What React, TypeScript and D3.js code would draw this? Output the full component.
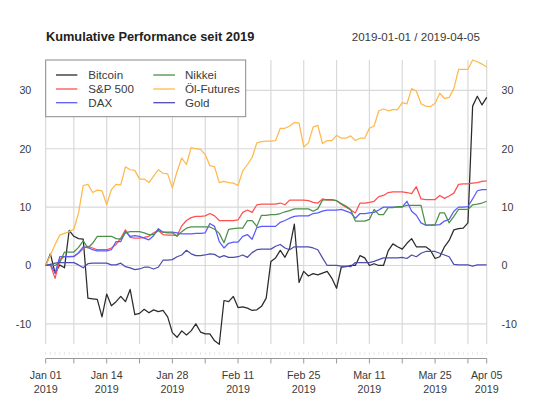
import React from 'react';
import * as d3 from 'd3';

const title = 'Kumulative Performance seit 2019';
const rangeLabel = '2019-01-01 / 2019-04-05';
const startDate = '2019-01-01';
const endDate = '2019-04-05';

const seriesNames = ['Bitcoin', 'S&P 500', 'DAX', 'Nikkei', 'Öl-Futures', 'Gold'];
const seriesColors = ['#2b2b2b', '#ff5050', '#5a5aff', '#4b904b', '#ffb84d', '#4d4daf'];

const bitcoin = [
  0, 2.0, -1.3, 0.1, -0.4, 6.0, 5.0, 4.6, 4.5, -5.6,
  -5.7, -5.8, -8.8, -4.9, -6.9, -6.2, -5.3, -6.2, -4.1, -8.4,
  -8.2, -7.5, -8.1, -7.6, -7.9, -7.7, -8.8, -11.5, -12.3, -11.2,
  -11.9, -11.2, -10.0, -11.4, -11.7, -11.7, -12.9, -13.5, -6.0, -6.2,
  -5.3, -7.2, -7.1, -7.3, -7.7, -7.6, -7.0, -5.6, 0.7, 1.3,
  2.6, 1.4, 3.0, 7.1, -2.9, -1.0, -1.8, -1.4, -1.6, -1.3,
  -1.0, -2.2, -3.9, -0.3, -0.2, 0.0, 0.0, 1.7, 1.3, 0.0,
  0.3, 0.0, 0.0, 2.5, 3.7, 3.2, 2.8, 3.8, 4.6, 3.2,
  3.2, 3.2, 2.6, 1.2, 1.5, 3.2, 4.3, 6.1, 6.3, 6.4,
  7.3, 27.3, 29.0, 27.5, 28.8,
];

const sp500 = [
  0, 0.1, -2.2, 1.0, 1.5, 1.5, 1.6, 2.1, 2.9, 3.3,
  3.0, 2.7, 2.7, 2.7, 3.0, 3.6, 4.7, 6.1, 4.8, 4.7,
  4.7, 4.8, 5.0, 5.6, 6.0, 5.3, 5.2, 5.2, 5.1, 6.8,
  7.7, 8.2, 8.4, 8.4, 8.5, 8.9, 8.5, 7.7, 7.7, 7.7,
  7.7, 7.8, 9.1, 9.5, 9.1, 10.4, 10.5, 10.5, 10.5, 10.5,
  10.7, 10.4, 11.2, 11.2, 11.2, 11.2, 11.1, 10.8, 10.7, 11.4,
  11.2, 11.2, 11.1, 10.5, 10.0, 9.5, 9.0, 10.7, 10.7, 10.8,
  11.0, 11.8, 12.0, 12.5, 12.6, 12.6, 12.6, 12.5, 12.3, 13.5,
  11.4, 11.3, 11.3, 11.3, 12.0, 11.5, 11.9, 12.4, 13.9, 14.0,
  14.0, 14.1, 14.2, 14.4, 14.5,
];

const dax = [
  0, 0.2, -1.3, 1.5, 1.5, 1.5, 1.5, 2.2, 3.2, 3.1,
  2.7, 2.5, 2.5, 2.5, 2.7, 4.1, 4.1, 5.8, 5.0, 5.1,
  5.0, 4.7, 4.4, 5.1, 6.3, 5.7, 5.7, 5.7, 5.6, 5.4,
  5.4, 5.4, 5.5, 5.5, 5.6, 7.2, 6.7, 4.1, 3.0, 3.8,
  4.0, 4.0, 5.0, 5.3, 4.5, 6.5, 6.7, 6.7, 6.7, 6.7,
  7.4, 7.7, 8.1, 8.4, 8.5, 8.5, 8.5, 8.9, 9.0, 9.3,
  9.5, 9.5, 9.5, 9.6, 9.3, 9.0, 8.1, 8.9, 8.9, 9.0,
  9.1, 9.5, 10.0, 10.0, 10.0, 10.0, 10.0, 11.0, 9.3, 8.6,
  7.3, 6.9, 6.9, 6.9, 7.0, 7.6, 7.9, 9.3, 10.0, 10.0,
  10.1, 11.4, 12.8, 13.0, 13.0,
];

const nikkei = [
  0, 0, 0, 0.5, 2.3, 2.3, 2.3, 3.1, 4.2, 3.0,
  3.8, 5.0, 5.0, 5.0, 5.0, 4.6, 4.5, 5.6, 5.8, 5.8,
  5.8, 5.6, 5.3, 5.3, 6.0, 5.7, 5.6, 5.6, 5.0, 5.8,
  6.4, 6.6, 6.6, 6.6, 6.6, 6.6, 6.2, 5.5, 3.9, 6.2,
  6.3, 6.4, 6.4, 7.7, 7.7, 6.7, 8.6, 8.6, 8.7, 8.7,
  8.9, 9.2, 9.4, 9.7, 9.7, 9.7, 9.7, 9.3, 9.7, 11.2,
  11.3, 11.3, 11.1, 10.6, 10.2, 9.6, 7.6, 7.6, 7.6, 7.9,
  9.6, 8.7, 8.7, 9.9, 9.9, 10.1, 10.1, 10.3, 10.3, 10.3,
  10.3, 6.9, 6.9, 7.0, 9.0, 9.0, 7.3, 8.4, 9.6, 9.6,
  9.6, 10.4, 10.5, 10.7, 11.0,
];

const oil = [
  0, 1.8, 3.6, 5.2, 5.5, 5.8, 6.2, 9.0, 13.7, 13.9,
  12.5, 12.9, 12.8, 10.4, 13.0, 13.9, 13.8, 16.9, 16.4, 16.3,
  14.8, 14.8, 14.2, 15.3, 16.4, 15.8, 15.7, 13.3, 16.1, 18.4,
  17.3, 20.2, 20.0, 19.9, 19.0, 17.1, 16.9, 14.2, 14.4, 14.2,
  14.1, 13.7, 16.2, 17.3, 18.5, 21.0, 21.2, 21.3, 21.3, 21.4,
  23.5, 23.5, 23.9, 24.5, 24.4, 20.3, 21.0, 23.7, 24.0, 20.9,
  21.4, 21.4, 22.3, 21.8, 21.8, 22.2, 21.4, 21.8, 21.8, 23.5,
  23.9, 26.5, 26.8, 26.5, 26.7, 26.7, 27.9, 27.7, 30.3, 29.9,
  27.7, 27.3, 27.2, 27.8, 29.5, 28.6, 28.8, 30.3, 33.6, 33.6,
  33.6, 35.2, 34.9, 34.5, 34.0,
];

const gold = [
  0, 0.2, 0.4, 0.5, 0.5, 0.5, 0.5, 0.1, -0.4, 0.3,
  0.4, 0.4, 0.4, 0.4, 0.1, 0.1, 0.4, -0.2, -0.4, -0.7,
  -0.6, -0.3, -0.3, -0.6, -0.3, 0.9, 0.9, 1.0, 1.5, 1.8,
  2.6, 2.0, 1.7, 1.7, 1.8, 2.0, 1.9, 1.4, 1.7, 1.4,
  1.4, 1.5, 1.8, 1.4, 2.2, 2.7, 2.8, 2.8, 2.8, 3.3,
  3.6, 3.0, 2.7, 3.2, 3.2, 3.2, 3.2, 3.0, 2.7, 1.3,
  0.0, 0.0, 0.0, -0.1, -0.1, -0.2, 0.5, 0.5, 0.5, 0.5,
  0.7, 1.0, 1.3, 1.3, 1.3, 1.3, 1.4, 1.2, 1.8, 1.5,
  2.1, 2.4, 2.4, 2.4, 2.1, 1.8, 1.5, 0.2, 0.1, 0.1,
  0.1, -0.1, 0.1, 0.1, 0.1,
];

const labeledTicks = ['2019-01-01', '2019-01-14', '2019-01-28', '2019-02-11', '2019-02-25', '2019-03-11', '2019-03-25', '2019-04-05'];
const minorTicks = ['2019-01-07', '2019-01-21', '2019-02-04', '2019-02-18', '2019-03-04', '2019-03-18', '2019-04-01'];
const yTicks = [-10, 0, 10, 20, 30];

const W = 533;
const H = 400;
const FONT = '"Liberation Sans", Arial, Helvetica, sans-serif';
const TEXT = '#3a3a3a';

export default function App() {
  const parse = d3.utcParse('%Y-%m-%d');
  const start = parse(startDate) as Date;
  const end = parse(endDate) as Date;
  const dates = d3.utcDay.range(start, d3.utcDay.offset(end, 1));
  const series = [bitcoin, sp500, dax, nikkei, oil, gold];

  const plot = { left: 45.7, right: 486.7, top: 60, bottom: 344.3 };
  const x = d3.scaleUtc().domain([start, end]).range([plot.left, plot.right]);
  const all = series.flat();
  const y = d3.scaleLinear().domain(d3.extent(all) as [number, number]).range([plot.bottom, plot.top]);

  const line = d3
    .line<number>()
    .x((_, i) => x(dates[i]))
    .y((v) => y(v));

  const fmtMD = d3.utcFormat('%b %d');
  const fmtY = d3.utcFormat('%Y');
  const labeled = labeledTicks.map((s) => parse(s) as Date);
  const minor = minorTicks.map((s) => parse(s) as Date);
  const allTicks = [...labeled, ...minor];

  const axisY = 358.5;

  const legendX = plot.left;
  const legendY = plot.top;
  const legendW = 200;
  const legendH = 56.7;
  const rowY = [75, 89, 102.7];
  const colX = [[56, 77.3, 88.3], [153.3, 175, 185]];

  return (
    <svg width={W} height={H} style={{ position: 'absolute', left: 0, top: 0, background: '#fff' }} fontFamily={FONT}>
      <rect x={0} y={0} width={W} height={H} fill="#fff" />
      <text x={45.9} y={41} fontSize={12.8} fontWeight="bold" fill="#222">{title}</text>
      <text x={480} y={41} fontSize={11.6} textAnchor="end" fill={TEXT}>{rangeLabel}</text>

      {yTicks.map((t) => (
        <line key={'hg' + t} x1={plot.left} x2={plot.right} y1={y(t)} y2={y(t)} stroke="#d9d9d9" strokeWidth={1.2} />
      ))}
      {allTicks.map((d, i) => (
        <line key={'vg' + i} x1={x(d)} x2={x(d)} y1={plot.top} y2={plot.bottom} stroke="#d9d9d9" strokeWidth={1.2} />
      ))}

      {yTicks.map((t) => (
        <g key={'yl' + t} fontSize={10.7} fill={TEXT}>
          <text x={31.3} y={y(t) + 3.8} textAnchor="end">{t}</text>
          <text x={501.5} y={y(t) + 3.8} textAnchor="start">{t}</text>
        </g>
      ))}

      {dates.map((d, i) => (
        <line key={'dt' + i} x1={x(d)} x2={x(d)} y1={352} y2={355} stroke="#e2e2e2" strokeWidth={0.8} />
      ))}
      <line x1={plot.left} x2={plot.right} y1={axisY} y2={axisY} stroke="#999" strokeWidth={1} />
      {allTicks.map((d, i) => (
        <line key={'tk' + i} x1={x(d)} x2={x(d)} y1={axisY} y2={axisY + 5} stroke="#999" strokeWidth={1} />
      ))}
      {labeled.map((d, i) => (
        <g key={'xl' + i} fontSize={10.7} fill={TEXT} textAnchor="middle">
          <text x={x(d)} y={379}>{fmtMD(d)}</text>
          <text x={x(d)} y={392.5}>{fmtY(d)}</text>
        </g>
      ))}

      {series.map((s, i) => (
        <path key={'s' + i} d={line(s) || ''} fill="none" stroke={seriesColors[i]} strokeWidth={1.25} strokeLinejoin="round" />
      ))}

      <rect x={legendX} y={legendY} width={legendW} height={legendH} fill="#fff" stroke="#8a8a8a" strokeWidth={1} />
      {seriesNames.map((name, i) => {
        const col = i < 3 ? 0 : 1;
        const row = i % 3;
        const [lx1, lx2, tx] = colX[col];
        return (
          <g key={'lg' + i}>
            <line x1={lx1} x2={lx2} y1={rowY[row]} y2={rowY[row]} stroke={seriesColors[i]} strokeWidth={1.3} />
            <text x={tx} y={rowY[row] + 4.1} fontSize={11.6} fill={TEXT}>{name}</text>
          </g>
        );
      })}
    </svg>
  );
}
